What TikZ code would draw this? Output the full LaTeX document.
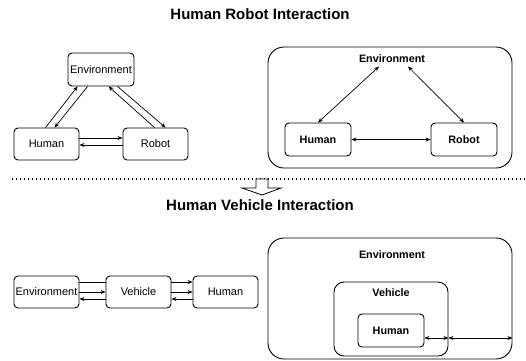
\documentclass[tikz,border=0pt]{standalone}
\usepackage{fontspec}
\setmainfont{Liberation Sans}
\usetikzlibrary{arrows.meta}

\begin{document}
\begin{tikzpicture}[x=1pt, y=-1pt,
  >={Stealth[length=5pt,width=4pt]},
  roundbox/.style={draw, rounded corners=4pt, line width=0.9pt, minimum width=65pt, minimum height=32pt, inner sep=0pt, font=\fontsize{11}{13}\selectfont},
  bigframe/.style={draw, rounded corners=16pt, line width=0.9pt, minimum width=244pt, minimum height=121pt, inner sep=0pt},
  boldlbl/.style={font=\bfseries\fontsize{10.8}{13}\selectfont},
  heading/.style={font=\bfseries\fontsize{15}{18}\selectfont},
  link/.style={line width=0.7pt}]
  \useasboundingbox (0,0) rectangle (526,360);

  % Titles
  \node[heading] (hri) at (260,14) {Human Robot Interaction};
  \node[heading] (hvi) at (260,205) {Human Vehicle Interaction};

  % Human robot: boxes
  \node[roundbox, minimum width=66pt, minimum height=33pt] (envA) at (101,69.5) {Environment};
  \node[roundbox] (humA) at (46.5,144) {Human};
  \node[roundbox] (robA) at (155.5,144) {Robot};

  % Human robot: arrows
  \draw[link,->] ([xshift=32pt]humA.north west) -- ([xshift=10pt]envA.south west);
  \draw[link,->] ([xshift=20pt]envA.south west) -- ([xshift=41pt]humA.north west);
  \draw[link,->] ([xshift=32pt]robA.north west) -- ([xshift=41pt]envA.south west);
  \draw[link,->] ([xshift=50pt]envA.south west) -- ([xshift=43pt]robA.north west);
  \draw[link,->] ([yshift=6pt]humA.east) -- ([yshift=6pt]robA.west);
  \draw[link,->] ([yshift=-1pt]robA.west) -- ([yshift=-1pt]humA.east);

  % Human robot: nested view
  \node[bigframe] (envB) at (390,107.5) {};
  \node[boldlbl] (envBlbl) at (392,59) {Environment};
  \node[roundbox, boldlbl, minimum width=66pt, minimum height=33pt] (humB) at (318,139.5) {Human};
  \node[roundbox, boldlbl, minimum width=66pt, minimum height=33pt] (robB) at (464,139.5) {Robot};
  \draw[link,<->] ([xshift=-13pt]envBlbl.south) -- (humB.north);
  \draw[link,<->] ([xshift=16pt]envBlbl.south) -- (robB.north);
  \draw[link,<->] (humB.east) -- (robB.west);

  % Separator
  \draw[line width=1.2pt, dash pattern=on 1.2pt off 2.8pt] (12,179) -- (525,179);
  \draw[line width=0.8pt, fill=white] (256,179) -- (268,179) -- (268,188) -- (281,188)
    -- (262,195) -- (242,188) -- (256,188) -- cycle;

  % Human vehicle: chain
  \node[roundbox] (envC) at (46.5,292) {Environment};
  \node[roundbox] (vehC) at (138.5,292) {Vehicle};
  \node[roundbox] (humC) at (225.5,292) {Human};
  \draw[link] ([yshift=10pt]envC.east) -- ([yshift=10pt]vehC.west);
  \draw[link,->] (envC.east) -- (vehC.west);
  \draw[link,->] ([yshift=-7pt]vehC.west) -- ([yshift=-7pt]envC.east);
  \draw[link,->] ([yshift=10pt]vehC.east) -- ([yshift=10pt]humC.west);
  \draw[link,->] (vehC.east) -- (humC.west);
  \draw[link,->] ([yshift=-7pt]humC.west) -- ([yshift=-7pt]vehC.east);

  % Human vehicle: nested view
  \node[bigframe] (envD) at (390,298.5) {};
  \node[boldlbl] (envDlbl) at (392,255) {Environment};
  \node[draw, rounded corners=10pt, line width=0.9pt, minimum width=114pt, minimum height=74pt] (vehD) at (391,319) {};
  \node[boldlbl] (vehDlbl) at (391,293) {Vehicle};
  \node[roundbox, boldlbl, minimum width=66pt, minimum height=33pt] (humD) at (391,330.5) {Human};
  \coordinate (hx) at ([yshift=-7.5pt]humD.east);
  \draw[link,<->] (hx) -- (hx -| vehD.east);
  \draw[link,<->] (hx -| vehD.east) -- (hx -| envD.east);
\end{tikzpicture}
\end{document}
